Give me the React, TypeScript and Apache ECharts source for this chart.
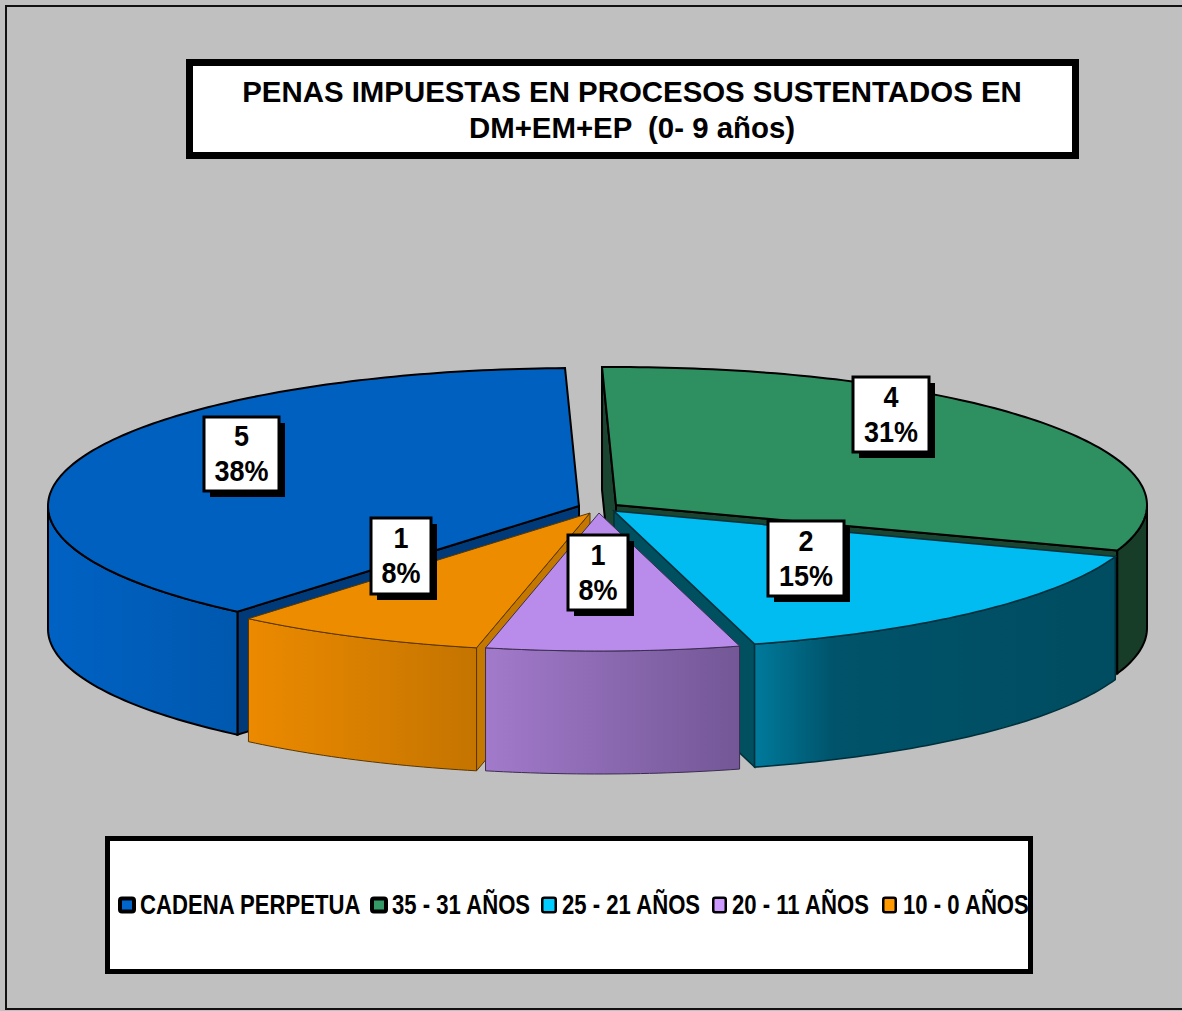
import React, { useEffect, useRef } from "react";
import * as echarts from "echarts";

const categories = ["CADENA PERPETUA", "35 - 31 AÑOS", "25 - 21 AÑOS", "20 - 11 AÑOS", "10 - 0 AÑOS"];
const counts = [5, 4, 2, 1, 1];
const percents = ["38%", "31%", "15%", "8%", "8%"];
const titleLines = ["PENAS IMPUESTAS EN PROCESOS SUSTENTADOS EN", "DM+EM+EP  (0- 9 años)"];

const topColors = ["#0060bf", "#2e8f60", "#00bcf0", "#b98cec", "#ee8c00"];
const legendColors = ["#0066cc", "#339966", "#00ccff", "#cc99ff", "#ff9900"];
const wallStops: [number, string][][] = [
  [[0, "#0062c4"], [1, "#0058ae"]],
  [[0, "#173c27"], [1, "#173c27"]],
  [[0, "#007a9c"], [0.22, "#00536a"], [1, "#004c60"]],
  [[0, "#a27acb"], [1, "#735796"]],
  [[0, "#ec8a00"], [1, "#c47400"]],
];
const faceColors = ["#003a78", "#1a4530", "#00505f", "#735796", "#c47800"];
const strokeColors = ["#000000", "#000000", "#00303c", "#3c2c50", "#5a3600"];
const strokeWidths = [2, 2, 1.5, 1, 1];

const START_ANGLE = 220.03;
const RX = 531;
const RY = 138;
const DEPTH = 123;
const apexX = [579, 616, 614, 599, 590];
const apexY = [506, 505, 511, 513, 513];
const drawOrder = [1, 2, 3, 5, 4];
const labelBoxes = [
  [204, 417, 75, 74],
  [853, 377, 76, 75],
  [768, 521, 76, 75],
  [568, 535, 60, 75],
  [371, 518, 60, 76],
];

const legendIconX = [118, 370, 541, 712, 882];
const legendIconW = [18, 18, 16, 15, 15];
const legendBorder = [4, 4, 2.5, 2.5, 2.5];
const legendTextX = [140, 392, 562, 732, 903];
const LEGEND_Y = 905;
const LEGEND_SCALE = 0.82;

const total = counts.reduce((a, b) => a + b, 0);
const rad = (d: number) => (d * Math.PI) / 180;

function renderSlice(index: number) {
  return (_params: any, api: any) => {
    const value = api.value(0);
    let before = 0;
    for (let i = 0; i < index; i++) before += counts[i];
    const a0 = START_ANGLE + (before / total) * 360;
    const a1 = a0 + (value / total) * 360;
    const cx = apexX[index];
    const cy = apexY[index];
    const pt = (deg: number, dy = 0) => [
      cx + RX * Math.sin(rad(deg)),
      cy - RY * Math.cos(rad(deg)) + dy,
    ];
    const arc = (from: number, to: number, dy = 0) => {
      const n = Math.max(2, Math.ceil(Math.abs(to - from)));
      const out: number[][] = [];
      for (let i = 0; i <= n; i++) out.push(pt(from + ((to - from) * i) / n, dy));
      return out;
    };
    const stroke = strokeColors[index];
    const lineWidth = strokeWidths[index];
    const children: any[] = [];
    const face = (deg: number) => {
      children.push({
        type: "polygon",
        shape: { points: [[cx, cy], pt(deg), pt(deg, DEPTH), [cx, cy + DEPTH]] },
        style: { fill: faceColors[index], stroke, lineWidth },
      });
    };
    if (Math.sin(rad(a0)) < 0) face(a0);
    if (Math.sin(rad(a1)) > 0) face(a1);
    // outer wall: only the part of the rim that faces the viewer (90..270 degrees)
    for (let k = -360; k <= 360; k += 360) {
      const w0 = Math.max(a0, 90 + k);
      const w1 = Math.min(a1, 270 + k);
      if (w1 > w0) {
        const fill = new echarts.graphic.LinearGradient(
          0, 0, 1, 0,
          wallStops[index].map(([offset, color]) => ({ offset, color }))
        );
        children.push({
          type: "polygon",
          shape: { points: [...arc(w0, w1), ...arc(w1, w0, DEPTH)] },
          style: { fill, stroke, lineWidth },
        });
      }
    }
    children.push({
      type: "polygon",
      shape: { points: [[cx, cy], ...arc(a0, a1)] },
      style: { fill: topColors[index], stroke, lineWidth },
    });
    const [bx, by, bw, bh] = labelBoxes[index];
    children.push({
      type: "rect",
      shape: { x: bx + 6, y: by + 6, width: bw, height: bh },
      style: { fill: "#000" },
    });
    children.push({
      type: "rect",
      shape: { x: bx, y: by, width: bw, height: bh },
      style: { fill: "#fff", stroke: "#000", lineWidth: 3 },
    });
    children.push({
      type: "text",
      x: bx + bw / 2,
      y: by + bh / 2 - 1,
      scaleX: 0.9,
      style: {
        text: `${value}\n${percents[index]}`,
        fill: "#000",
        font: 'bold 30px "Liberation Sans", Arial, sans-serif',
        lineHeight: 35,
        align: "center",
        verticalAlign: "middle",
      },
    });
    return { type: "group", children };
  };
}

export default function App() {
  const ref = useRef<HTMLDivElement>(null);
  useEffect(() => {
    document.body.style.margin = "0";
    const chart = echarts.init(ref.current!, undefined, { renderer: "svg" });
    const legendItems = categories.flatMap((name, i) => [
      {
        type: "rect",
        shape: {
          x: legendIconX[i] + legendBorder[i] / 2,
          y: LEGEND_Y - 8.5 + legendBorder[i] / 2,
          width: legendIconW[i] - legendBorder[i],
          height: 17 - legendBorder[i],
          r: 2,
        },
        style: { fill: legendColors[i], stroke: "#000", lineWidth: legendBorder[i] },
      },
      {
        type: "text",
        x: legendTextX[i],
        y: LEGEND_Y,
        scaleX: LEGEND_SCALE,
        style: {
          text: name,
          fill: "#000",
          font: 'bold 27px "Liberation Sans", Arial, sans-serif',
          align: "left",
          verticalAlign: "middle",
        },
      },
    ]);
    chart.setOption({
      animation: false,
      backgroundColor: "#c0c0c0",
      title: {
        text: titleLines.join("\n"),
        left: 632,
        top: 73,
        textAlign: "center",
        padding: 0,
        z: 10,
        textStyle: {
          fontFamily: '"Liberation Sans", Arial, sans-serif',
          fontWeight: "bold",
          fontSize: 29.4,
          lineHeight: 36,
          color: "#000",
        },
      },
      graphic: [
        {
          type: "rect",
          z: 0,
          shape: { x: 6, y: 6, width: 1190, height: 1003 },
          style: { fill: "none", stroke: "#111", lineWidth: 2 },
        },
        {
          type: "rect",
          z: 0,
          shape: { x: 189.5, y: 62.5, width: 886, height: 93 },
          style: { fill: "#fff", stroke: "#000", lineWidth: 7 },
        },
        {
          type: "rect",
          z: 0,
          shape: { x: 107.5, y: 838.5, width: 923, height: 133 },
          style: { fill: "#fff", stroke: "#000", lineWidth: 5 },
        },
        { type: "group", z: 1, children: legendItems },
      ],
      series: categories.map((name, i) => ({
        type: "custom",
        name,
        coordinateSystem: "none",
        z: drawOrder[i] + 1,
        silent: true,
        itemStyle: { color: legendColors[i] },
        data: [[counts[i]]],
        renderItem: renderSlice(i),
      })),
    });
    return () => chart.dispose();
  }, []);
  return <div ref={ref} style={{ width: 1182, height: 1011 }} />;
}
